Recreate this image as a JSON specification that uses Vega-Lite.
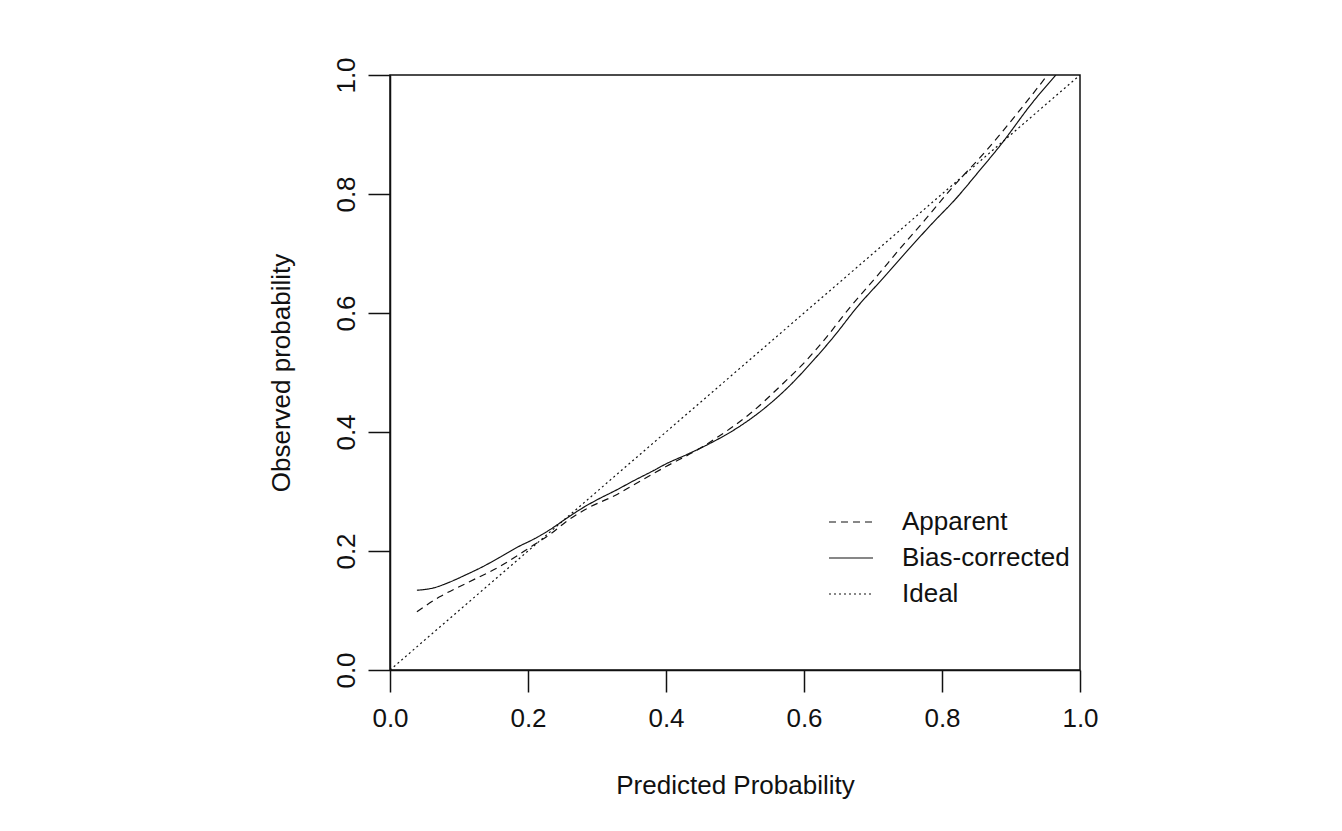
{
  "$schema": "https://vega.github.io/schema/vega-lite/v6.json",
  "width": 690,
  "height": 595,
  "autosize": {"type": "none"},
  "padding": {"left": 390, "top": 75, "right": 262, "bottom": 161},
  "background": "white",
  "config": {
    "font": "Liberation Sans",
    "view": {"stroke": "#111", "strokeWidth": 1.5},
    "axis": {
      "grid": false,
      "domainColor": "#111",
      "domainWidth": 1.5,
      "tickColor": "#111",
      "tickWidth": 1.5,
      "tickSize": 22,
      "labelFont": "Liberation Sans",
      "labelFontSize": 26,
      "labelColor": "#111",
      "titleFont": "Liberation Sans",
      "titleFontSize": 26,
      "titleFontWeight": "normal",
      "titleColor": "#111",
      "labelFlush": false,
      "labelOverlap": false
    },
    "legend": {"rowPadding": 0}
  },
  "data": {
    "values": [
      {"series": "Apparent", "x": 0.039, "y": 0.098},
      {"series": "Apparent", "x": 0.072, "y": 0.123},
      {"series": "Apparent", "x": 0.111, "y": 0.146},
      {"series": "Apparent", "x": 0.159, "y": 0.174},
      {"series": "Apparent", "x": 0.208, "y": 0.210},
      {"series": "Apparent", "x": 0.232, "y": 0.228},
      {"series": "Apparent", "x": 0.256, "y": 0.250},
      {"series": "Apparent", "x": 0.285, "y": 0.271},
      {"series": "Apparent", "x": 0.329, "y": 0.295},
      {"series": "Apparent", "x": 0.353, "y": 0.311},
      {"series": "Apparent", "x": 0.400, "y": 0.342},
      {"series": "Apparent", "x": 0.450, "y": 0.373},
      {"series": "Apparent", "x": 0.473, "y": 0.390},
      {"series": "Apparent", "x": 0.522, "y": 0.431},
      {"series": "Apparent", "x": 0.570, "y": 0.482},
      {"series": "Apparent", "x": 0.604, "y": 0.521},
      {"series": "Apparent", "x": 0.633, "y": 0.560},
      {"series": "Apparent", "x": 0.667, "y": 0.610},
      {"series": "Apparent", "x": 0.705, "y": 0.661},
      {"series": "Apparent", "x": 0.739, "y": 0.708},
      {"series": "Apparent", "x": 0.775, "y": 0.756},
      {"series": "Apparent", "x": 0.812, "y": 0.807},
      {"series": "Apparent", "x": 0.865, "y": 0.874},
      {"series": "Apparent", "x": 0.908, "y": 0.934},
      {"series": "Apparent", "x": 0.953, "y": 1.000},
      {"series": "Bias-corrected", "x": 0.039, "y": 0.134},
      {"series": "Bias-corrected", "x": 0.063, "y": 0.138},
      {"series": "Bias-corrected", "x": 0.087, "y": 0.148},
      {"series": "Bias-corrected", "x": 0.110, "y": 0.160},
      {"series": "Bias-corrected", "x": 0.135, "y": 0.174},
      {"series": "Bias-corrected", "x": 0.160, "y": 0.190},
      {"series": "Bias-corrected", "x": 0.184, "y": 0.206},
      {"series": "Bias-corrected", "x": 0.210, "y": 0.221},
      {"series": "Bias-corrected", "x": 0.232, "y": 0.236},
      {"series": "Bias-corrected", "x": 0.256, "y": 0.255},
      {"series": "Bias-corrected", "x": 0.280, "y": 0.273},
      {"series": "Bias-corrected", "x": 0.300, "y": 0.286},
      {"series": "Bias-corrected", "x": 0.329, "y": 0.303},
      {"series": "Bias-corrected", "x": 0.353, "y": 0.318},
      {"series": "Bias-corrected", "x": 0.380, "y": 0.334},
      {"series": "Bias-corrected", "x": 0.401, "y": 0.347},
      {"series": "Bias-corrected", "x": 0.430, "y": 0.362},
      {"series": "Bias-corrected", "x": 0.464, "y": 0.381},
      {"series": "Bias-corrected", "x": 0.498, "y": 0.403},
      {"series": "Bias-corrected", "x": 0.546, "y": 0.443},
      {"series": "Bias-corrected", "x": 0.575, "y": 0.473},
      {"series": "Bias-corrected", "x": 0.614, "y": 0.521},
      {"series": "Bias-corrected", "x": 0.643, "y": 0.560},
      {"series": "Bias-corrected", "x": 0.677, "y": 0.610},
      {"series": "Bias-corrected", "x": 0.715, "y": 0.659},
      {"series": "Bias-corrected", "x": 0.750, "y": 0.705},
      {"series": "Bias-corrected", "x": 0.787, "y": 0.752},
      {"series": "Bias-corrected", "x": 0.820, "y": 0.792},
      {"series": "Bias-corrected", "x": 0.852, "y": 0.836},
      {"series": "Bias-corrected", "x": 0.884, "y": 0.881},
      {"series": "Bias-corrected", "x": 0.932, "y": 0.955},
      {"series": "Bias-corrected", "x": 0.965, "y": 1.000},
      {"series": "Ideal", "x": 0.0, "y": 0.0},
      {"series": "Ideal", "x": 1.0, "y": 1.0}
    ]
  },
  "mark": {"type": "line", "color": "#111", "strokeWidth": 1.2, "clip": true, "interpolate": "monotone"},
  "encoding": {
    "x": {
      "field": "x",
      "type": "quantitative",
      "scale": {"domain": [0, 1], "nice": false, "zero": false},
      "axis": {
        "title": "Predicted Probability",
        "values": [0, 0.2, 0.4, 0.6, 0.8, 1.0],
        "format": ".1f",
        "labelPadding": 13,
        "titlePadding": 41
      }
    },
    "y": {
      "field": "y",
      "type": "quantitative",
      "scale": {"domain": [0, 1], "nice": false, "zero": false},
      "axis": {
        "title": "Observed probability",
        "values": [0, 0.2, 0.4, 0.6, 0.8, 1.0],
        "format": ".1f",
        "labelAngle": -90,
        "labelAlign": "center",
        "labelBaseline": "bottom",
        "labelPadding": 9,
        "titlePadding": 39
      }
    },
    "strokeDash": {
      "field": "series",
      "type": "nominal",
      "scale": {
        "domain": ["Apparent", "Bias-corrected", "Ideal"],
        "range": [[7, 5], [1, 0], [2, 3]]
      },
      "legend": {
        "title": null,
        "orient": "none",
        "legendX": 438,
        "legendY": 424,
        "padding": 0,
        "symbolType": "stroke",
        "symbolSize": 1936,
        "symbolStrokeColor": "#111",
        "symbolStrokeWidth": 1.2,
        "labelFont": "Liberation Sans",
        "labelFontSize": 26,
        "labelColor": "#111",
        "labelOffset": 28,
        "labelLimit": 0
      }
    },
    "detail": {"field": "series", "type": "nominal"}
  }
}
